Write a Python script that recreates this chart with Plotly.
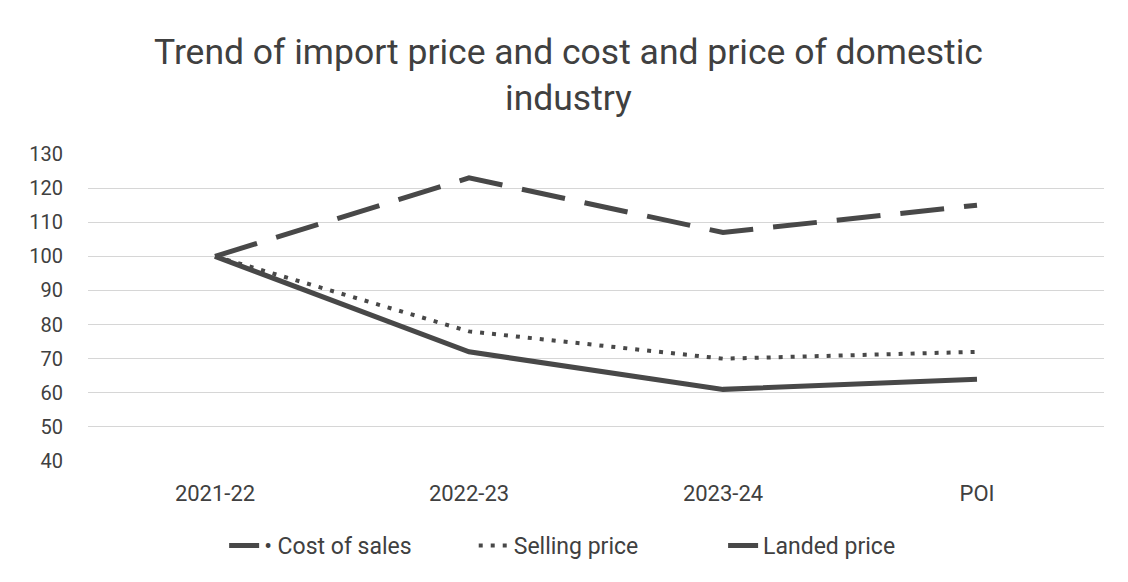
import plotly.graph_objects as go

categories = ["2021-22", "2022-23", "2023-24", "POI"]
cost_of_sales = [100, 123, 107, 115]
selling_price = [100, 78, 70, 72]
landed_price = [100, 72, 61, 64]

line_color = "#484848"
text_color = "#404040"
font_family = "Roboto, Lato, sans-serif"
nb = "\u00a0"

fig = go.Figure()
fig.add_trace(go.Scatter(x=categories, y=cost_of_sales, mode="lines", name="• Cost of sales" + nb * 10,
                         line=dict(color=line_color, width=5, dash="44px,20px")))
fig.add_trace(go.Scatter(x=categories, y=selling_price, mode="lines", name="Selling price" + nb * 14,
                         line=dict(color=line_color, width=4, dash="4px,8px")))
fig.add_trace(go.Scatter(x=categories, y=landed_price, mode="lines", name="Landed price",
                         line=dict(color=line_color, width=5)))

fig.update_layout(
    width=1128, height=582,
    paper_bgcolor="white", plot_bgcolor="white",
    margin=dict(l=88, r=24, t=154, b=121),
    font=dict(family=font_family, color=text_color, size=18),
    annotations=[dict(text="Trend of import price and cost and price of domestic<br>industry",
                      xref="paper", yref="paper", x=0.473, y=1.257,
                      xanchor="center", yanchor="middle", showarrow=False,
                      font=dict(size=35.5, color=text_color, family=font_family))],
    xaxis=dict(type="category", range=[-0.5, 3.5], showgrid=False, showline=False,
               ticks="outside", ticklen=13, tickcolor="rgba(0,0,0,0)",
               tickfont=dict(size=22, color=text_color)),
    yaxis=dict(range=[40, 130], dtick=10, tick0=40, showgrid=True, gridcolor="#d6d6d6",
               gridwidth=1, zeroline=False, showline=False, ticks="outside", ticklen=20,
               tickcolor="rgba(0,0,0,0)", tickfont=dict(size=20, color=text_color)),
    legend=dict(orientation="h", x=0.134, xanchor="left", y=-0.205, yanchor="top",
                font=dict(size=23, color=text_color), traceorder="normal"),
    showlegend=True,
)

fig.write_html("out.html")
